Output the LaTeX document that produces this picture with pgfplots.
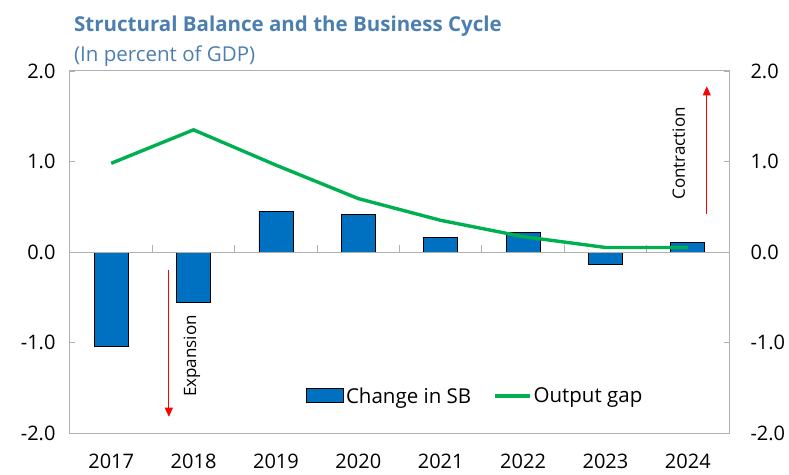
\documentclass[border=0pt]{standalone}
\usepackage{pgfplots}
\pgfplotsset{compat=1.18}
\usepackage{fontspec}
\setmainfont{Open Sans}
\usetikzlibrary{arrows.meta}
\definecolor{barblue}{HTML}{0070C0}
\definecolor{lgreen}{HTML}{00B050}
\definecolor{ttl}{HTML}{4C7FAF}
\definecolor{frame}{HTML}{B0B0B0}
\begin{document}
\begin{tikzpicture}
\begin{axis}[
  name=ax, at={(0,0)}, anchor=south west,
  scale only axis, width=659pt, height=362pt,
  xmin=-0.5, xmax=7.5, ymin=-2, ymax=2,
  xtick={0,...,7},
  xticklabels={2017,2018,2019,2020,2021,2022,2023,2024},
  major x tick style={draw=none},
  ytick={-2,-1,0,1,2},
  yticklabel style={font=\fontsize{20}{22}\selectfont, xshift=-11pt,
    /pgf/number format/fixed, /pgf/number format/fixed zerofill,
    /pgf/number format/precision=1, /pgf/number format/assume math mode=true},
  xticklabel style={font=\fontsize{20}{22}\selectfont, yshift=-17pt},
  tick align=inside, major tick length=5pt,
  tick style={frame},
  axis line style={frame, line width=1pt},
  legend style={draw=none, fill=none, at={(0.615,0.102)}, anchor=center,
    legend columns=2, font=\fontsize{20.5}{22}\selectfont,
    /tikz/every even column/.append style={column sep=20pt}},
  clip=false,
]
\addplot[ybar, bar width=34pt, fill=barblue, draw=black, line width=0.8pt,
  legend image code/.code={\draw[fill=barblue,draw=black,line width=0.8pt] (0pt,-6pt) rectangle (37pt,8pt);}]
  coordinates {(0,-1.04) (1,-0.56) (2,0.45) (3,0.41) (4,0.16) (5,0.22) (6,-0.135) (7,0.11)};
\addlegendentry{Change in SB}
\draw[frame, line width=1pt] (axis cs:-0.5,0) -- (axis cs:7.5,0);
\pgfplotsinvokeforeach{0.5,1.5,2.5,3.5,4.5,5.5,6.5}{
  \draw[frame, line width=1pt] (axis cs:#1,0) -- ++(0pt,7pt);
}
\addplot[lgreen, line width=3.4pt,
  legend image code/.code={\draw[lgreen,line width=3.4pt] (0pt,0pt) -- (35pt,0pt);}]
  coordinates {(0,0.98) (1,1.35) (2,0.96) (3,0.59) (4,0.35) (5,0.17) (6,0.05) (7,0.05)};
\addlegendentry{Output gap}
\draw[red, line width=0.9pt, -{Triangle[length=9pt,width=8pt]}] (axis cs:0.70,-0.20) -- (axis cs:0.70,-1.82);
\node[rotate=90, font=\fontsize{17}{19}\selectfont] at (axis cs:0.98,-1.15) {Expansion};
\draw[red, line width=0.9pt, -{Triangle[length=9pt,width=8pt]}] (axis cs:7.23,0.42) -- (axis cs:7.23,1.83);
\node[rotate=90, font=\fontsize{17}{19}\selectfont] at (axis cs:6.89,1.09) {Contraction};
\node[anchor=base west, text=ttl, font=\bfseries\fontsize{20.5}{22}\selectfont, inner sep=0pt] at (rel axis cs:0.006,1.108) {Structural Balance and the Business Cycle};
\node[anchor=base west, text=ttl, font=\fontsize{20.5}{22}\selectfont, inner sep=0pt] at (rel axis cs:0.006,1.027) {(In percent of GDP)};
\end{axis}
\begin{axis}[
  at={(0,0)}, anchor=south west,
  scale only axis, width=659pt, height=362pt,
  xmin=-0.5, xmax=7.5, ymin=-2, ymax=2,
  axis x line=none, axis y line*=right,
  ytick={-2,-1,0,1,2},
  yticklabel style={font=\fontsize{20}{22}\selectfont, xshift=18pt, anchor=west,
    /pgf/number format/fixed, /pgf/number format/fixed zerofill,
    /pgf/number format/precision=1, /pgf/number format/assume math mode=true},
  tick align=inside, major tick length=5pt,
  tick style={frame},
  axis line style={frame, line width=1pt},
]
\addplot[draw=none] coordinates {(0,0)};
\end{axis}
\pgfresetboundingbox
\path[use as bounding box] (-70pt,-41pt) rectangle (719pt,433pt);
\end{tikzpicture}
\end{document}
